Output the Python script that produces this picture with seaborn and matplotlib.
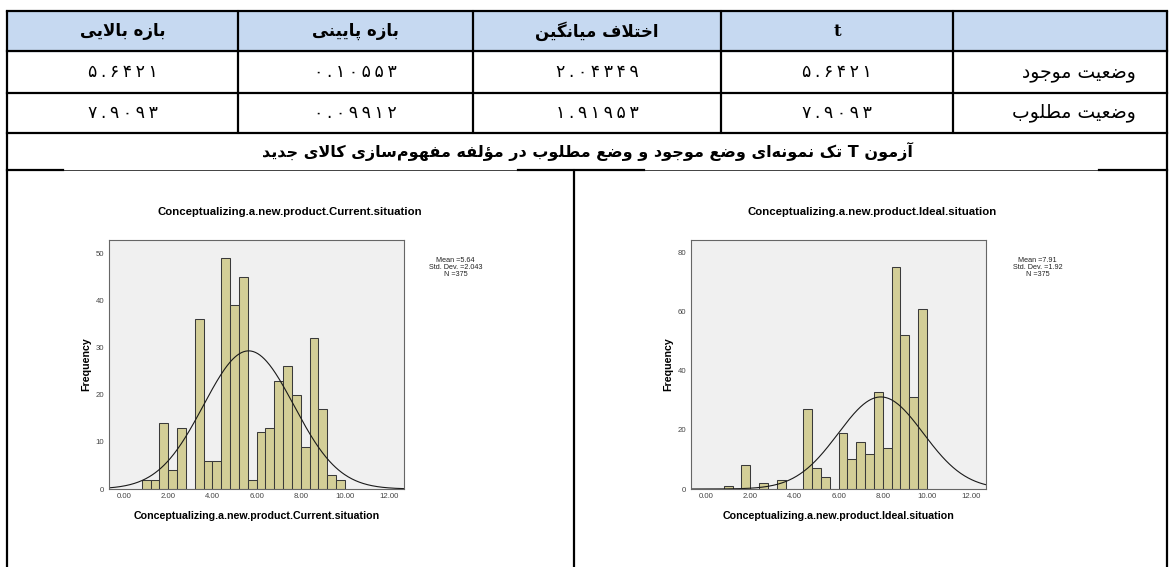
import numpy as np
import pandas as pd
import matplotlib
matplotlib.use("Agg")
import matplotlib.pyplot as plt
from matplotlib.patches import Rectangle
import seaborn as sns

# ---------------- data ----------------
header = ["", "t", "اختلاف میانگین", "بازه پایینی", "بازه بالایی"]
row_labels = ["وضعیت موجود", "وضعیت مطلوب"]
t_values = ["5.6421", "7.9093"]
mean_diff = ["2.04349", "1.91953"]
lower_bound = ["0.10553", "0.09912"]
upper_bound = ["5.6421", "7.9093"]
table_title = "آزمون T تک نمونه‌ای وضع موجود و وضع مطلوب در مؤلفه مفهوم‌سازی کالای جدید"

var_current = "Conceptualizing.a.new.product.Current.situation"
var_ideal = "Conceptualizing.a.new.product.Ideal.situation"
bin_start, bin_width = 0.8, 0.4
counts_current = [2, 2, 14, 4, 13, 0, 36, 6, 6, 49, 39, 45, 2, 12, 13, 23,
                  26, 20, 9, 32, 17, 3, 2]
counts_ideal = [1, 0, 8, 0, 2, 0, 3, 0, 0, 27, 7, 4, 0, 19, 10, 16,
                12, 33, 14, 75, 52, 31, 61]
stats_current = {"mean": 5.64, "sd": 2.043, "n": 375}
stats_ideal = {"mean": 7.91, "sd": 1.92, "n": 375}

# ---------------- Persian text shaping ----------------
FORMS = {
    '\u0622': ('\uFE81', '\uFE82', None, None),
    '\u0624': ('\uFE85', '\uFE86', None, None),
    '\u0627': ('\uFE8D', '\uFE8E', None, None),
    '\u0628': ('\uFE8F', '\uFE90', '\uFE91', '\uFE92'),
    '\u067E': ('\uFB56', '\uFB57', '\uFB58', '\uFB59'),
    '\u062A': ('\uFE95', '\uFE96', '\uFE97', '\uFE98'),
    '\u062C': ('\uFE9D', '\uFE9E', '\uFE9F', '\uFEA0'),
    '\u062E': ('\uFEA5', '\uFEA6', '\uFEA7', '\uFEA8'),
    '\u062F': ('\uFEA9', '\uFEAA', None, None),
    '\u0631': ('\uFEAD', '\uFEAE', None, None),
    '\u0632': ('\uFEAF', '\uFEB0', None, None),
    '\u0633': ('\uFEB1', '\uFEB2', '\uFEB3', '\uFEB4'),
    '\u0636': ('\uFEBD', '\uFEBE', '\uFEBF', '\uFEC0'),
    '\u0637': ('\uFEC1', '\uFEC2', '\uFEC3', '\uFEC4'),
    '\u0639': ('\uFEC9', '\uFECA', '\uFECB', '\uFECC'),
    '\u0641': ('\uFED1', '\uFED2', '\uFED3', '\uFED4'),
    '\u06A9': ('\uFB8E', '\uFB8F', '\uFB90', '\uFB91'),
    '\u06AF': ('\uFB92', '\uFB93', '\uFB94', '\uFB95'),
    '\u0644': ('\uFEDD', '\uFEDE', '\uFEDF', '\uFEE0'),
    '\u0645': ('\uFEE1', '\uFEE2', '\uFEE3', '\uFEE4'),
    '\u0646': ('\uFEE5', '\uFEE6', '\uFEE7', '\uFEE8'),
    '\u0647': ('\uFEE9', '\uFEEA', '\uFEEB', '\uFEEC'),
    '\u0648': ('\uFEED', '\uFEEE', None, None),
    '\u06CC': ('\uFBFC', '\uFBFD', '\uFBFE', '\uFBFF'),
}
LAM_ALEF = {'\u0627': ('\uFEFB', '\uFEFC'), '\u0622': ('\uFEF5', '\uFEF6')}


def shape(text):
    """Join Persian letters into presentation forms and order them visually."""
    tokens, i = [], 0
    while i < len(text):
        c = text[i]
        if c == '\u0644' and i + 1 < len(text) and text[i + 1] in LAM_ALEF:
            tokens.append(('LA', text[i + 1]))
            i += 2
        else:
            tokens.append(('C', c))
            i += 1

    def joins_next(tok):
        return tok[0] == 'C' and tok[1] in FORMS and FORMS[tok[1]][2] is not None

    out = []
    for k, (kind, c) in enumerate(tokens):
        prev = tokens[k - 1] if k > 0 else None
        nxt = tokens[k + 1] if k + 1 < len(tokens) else None
        prev_j = prev is not None and joins_next(prev)
        if kind == 'LA':
            out.append(LAM_ALEF[c][1 if prev_j else 0])
            continue
        if c not in FORMS:
            if c != '\u200c':
                out.append(c)
            continue
        f = FORMS[c]
        nxt_letter = nxt is not None and (nxt[0] == 'LA' or nxt[1] in FORMS)
        can_next = f[2] is not None and nxt_letter
        if prev_j and can_next:
            out.append(f[3])
        elif prev_j:
            out.append(f[1])
        elif can_next:
            out.append(f[2])
        else:
            out.append(f[0])
    return ''.join(reversed(out))


FA_DIGITS = str.maketrans('0123456789', '۰۱۲۳۴۵۶۷۸۹')


def fa_num(s):
    # Persian digits, loosely tracked
    return '\u2009'.join(s.translate(FA_DIGITS))


# ---------------- figure ----------------
sns.set_style("white")
plt.rcParams['font.family'] = ['Liberation Sans', 'DejaVu Sans']
plt.rcParams['text.color'] = 'black'
W, H = 1169, 567
fig = plt.figure(figsize=(W / 100, H / 100), dpi=100)
canvas = fig.add_axes([0, 0, 1, 1])
canvas.set_xlim(0, W)
canvas.set_ylim(H, 0)
canvas.axis('off')

FA = ['DejaVu Sans']
LW = 1.6
x_edges = [7, 238, 473, 721, 953, 1167]
y_rows = [11, 51, 93, 133, 170]

# header background
canvas.add_patch(Rectangle((x_edges[0], y_rows[0]), x_edges[-1] - x_edges[0],
                           y_rows[1] - y_rows[0], color='#C6D9F1', zorder=0))
# horizontal rules
for y in y_rows[:4]:
    canvas.plot([x_edges[0], x_edges[-1]], [y, y], color='black', lw=LW,
                solid_capstyle='projecting')
canvas.plot([x_edges[0], x_edges[-1]], [y_rows[4], y_rows[4]],
            color='#222222', lw=0.6)
for seg in [(7, 63), (518, 644), (1099, 1167)]:
    canvas.plot(seg, [y_rows[4], y_rows[4]], color='black', lw=LW,
                solid_capstyle='projecting')
# vertical rules
for x in x_edges[1:-1]:
    canvas.plot([x, x], [y_rows[0], y_rows[3]], color='black', lw=LW)
for x in (x_edges[0], x_edges[-1]):
    canvas.plot([x, x], [y_rows[0], H], color='black', lw=LW)
canvas.plot([574, 574], [y_rows[4], H], color='black', lw=LW)

# cell text (columns ordered right-to-left)
col_centers = [(x_edges[i] + x_edges[i + 1]) / 2 for i in range(5)][::-1]
label_right = 1136
hy = (y_rows[0] + y_rows[1]) / 2
for j, h in enumerate(header):
    if not h:
        continue
    if h == 't':
        canvas.text(col_centers[j], hy, h, ha='center', va='center',
                    fontsize=12, fontweight='bold', family=['DejaVu Serif'])
    else:
        canvas.text(col_centers[j], hy, shape(h), ha='center', va='center',
                    fontsize=12, fontweight='bold', family=FA)
for r in range(2):
    cy = (y_rows[r + 1] + y_rows[r + 2]) / 2
    canvas.text(label_right, cy, shape(row_labels[r]), ha='right', va='center',
                fontsize=13.5, family=FA)
    vals = [t_values[r], mean_diff[r], lower_bound[r], upper_bound[r]]
    for j, v in enumerate(vals, start=1):
        canvas.text(col_centers[j], cy, fa_num(v), ha='center', va='center',
                    fontsize=12.5, family=FA)
canvas.text((x_edges[0] + x_edges[-1]) / 2, (y_rows[3] + y_rows[4]) / 2,
            shape(table_title), ha='center', va='center', fontsize=11.5,
            fontweight='bold', family=FA)


# ---------------- histograms ----------------
def histogram(left_px, counts, stats, name, ymax, yticks):
    n_bins = len(counts)
    centers = bin_start + bin_width * (np.arange(n_bins) + 0.5)
    df = pd.DataFrame({"value": centers, "count": counts})
    ax = fig.add_axes([left_px / W, 1 - 489 / H, 295 / W, 249 / H], zorder=3)
    ax.set_facecolor('#F0F0F0')
    sns.histplot(data=df, x="value", weights="count", binwidth=bin_width,
                 binrange=(bin_start, bin_start + bin_width * n_bins), ax=ax,
                 color='#D3CE97', edgecolor='#3a3a3a', linewidth=0.75, alpha=1)
    xs = np.linspace(-0.7, 12.7, 400)
    scale = stats['n'] * bin_width
    pdf = scale * np.exp(-0.5 * ((xs - stats['mean']) / stats['sd']) ** 2) / (
        stats['sd'] * np.sqrt(2 * np.pi))
    sns.lineplot(x=xs, y=pdf, ax=ax, color='#1a1a1a', lw=0.8)
    ax.set_xlim(-0.68, 12.67)
    ax.set_ylim(0, ymax)
    ax.set_xticks(np.arange(0, 12.01, 2))
    ax.set_xticklabels([f"{v:.2f}" for v in np.arange(0, 12.01, 2)])
    ax.set_yticks(yticks)
    ax.tick_params(axis='both', labelsize=5.6, labelcolor='#444444',
                   length=2.5, width=0.6, color='#555555', pad=1)
    ax.tick_params(axis='x', length=0, pad=3)
    for s in ax.spines.values():
        s.set_color('#666666')
        s.set_linewidth(0.8)
    ax.set_xlabel('')
    ax.set_ylabel('')
    ax.text(0.5, -0.108, name, transform=ax.transAxes, ha='center',
            va='center', fontsize=7.7, fontweight='bold')
    ax.text(-0.076, 0.5, 'Frequency', transform=ax.transAxes, ha='center',
            va='center', rotation=90, fontsize=7.7, fontweight='bold')
    ax.text(0.614, 1.112, name, transform=ax.transAxes, ha='center',
            va='center', fontsize=8.2, fontweight='bold')
    txt = (f"Mean ={stats['mean']}\nStd. Dev. ={stats['sd']}\n"
           f"N ={stats['n']}")
    ax.text(1.175, 0.93, txt, transform=ax.transAxes, ha='center', va='top',
            fontsize=5.2, linespacing=0.95, color='#222222')
    return ax


histogram(109, counts_current, stats_current, var_current, 52.8,
          [0, 10, 20, 30, 40, 50])
histogram(691, counts_ideal, stats_ideal, var_ideal, 84.3,
          [0, 20, 40, 60, 80])

fig.savefig('out.png', dpi=100)
